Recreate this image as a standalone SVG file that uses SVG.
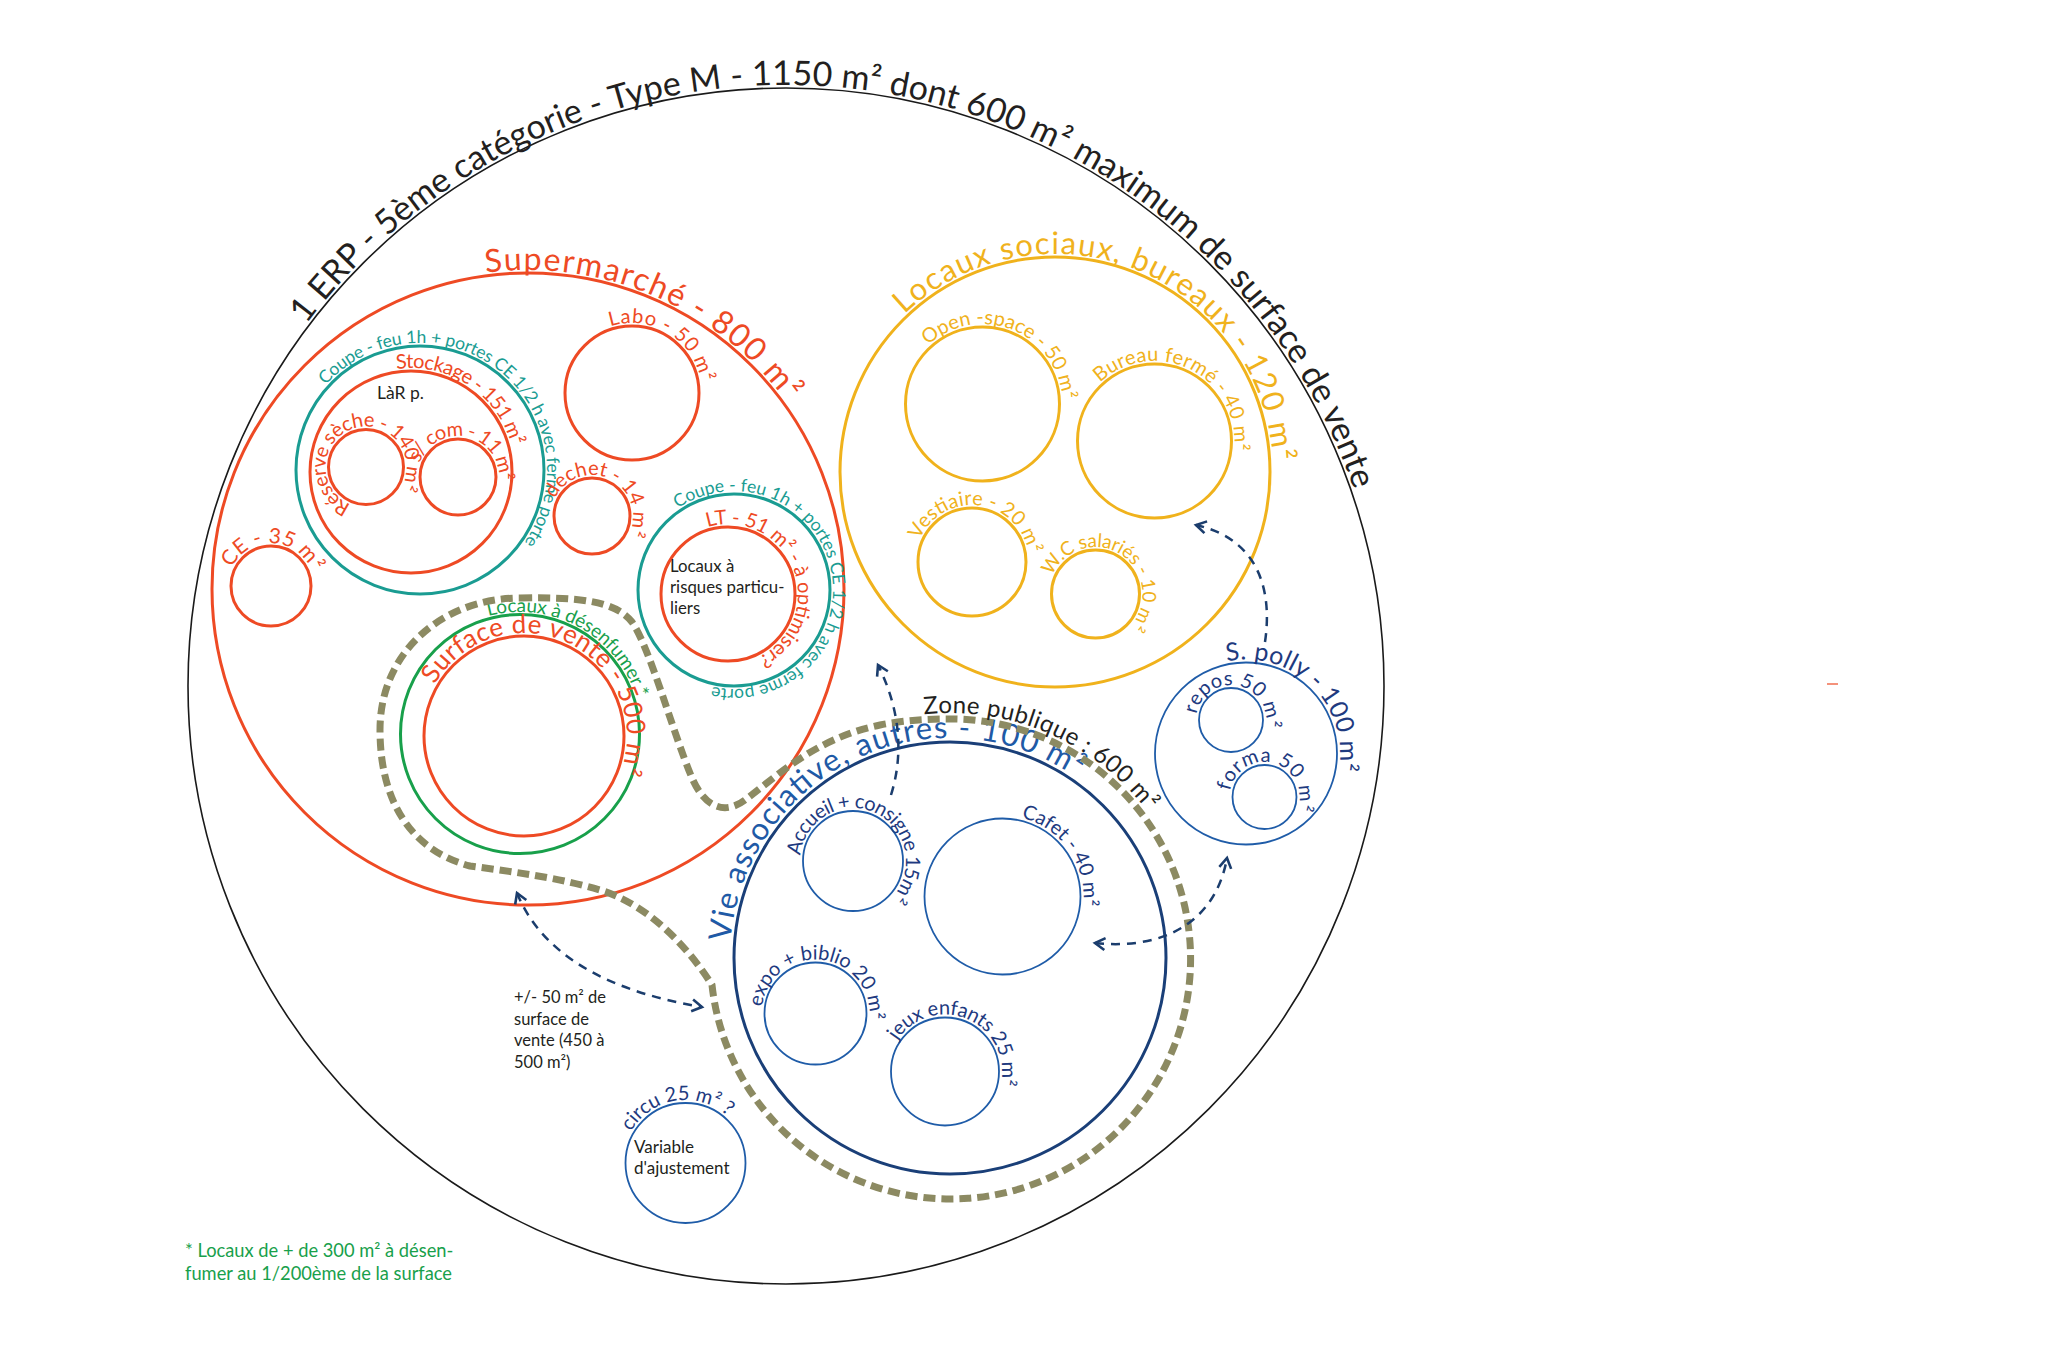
<svg xmlns="http://www.w3.org/2000/svg" xmlns:xlink="http://www.w3.org/1999/xlink" width="2048" height="1356" viewBox="0 0 2048 1356">
<style>
text { font-family: Lato, "Noto Sans", "DejaVu Sans", sans-serif; }
.k { fill:none; stroke:#1a1a1a; stroke-width:1.6; }
.or { fill:none; stroke:#ee4a24; stroke-width:3; }
.te { fill:none; stroke:#1a9c92; stroke-width:3; }
.gr { fill:none; stroke:#18a04b; stroke-width:3; }
.ye { fill:none; stroke:#f0b21c; stroke-width:3; }
.nv { fill:none; stroke:#1a3f78; stroke-width:3; }
.bl { fill:none; stroke:#1f5ca8; stroke-width:1.8; }
.ol { fill:none; stroke:#8c8a62; stroke-width:7; stroke-dasharray:12 6; }
.ar { fill:none; stroke:#1b3d6d; stroke-width:2.5; stroke-dasharray:9 7; }
.tk { fill:#231f20; }
.tor { fill:#ee4a24; }
.tte { fill:#1a9c92; }
.tgr { fill:#18a04b; }
.tye { fill:#f0b21c; }
.tvb { fill:#1f5aa6; }
.tnv { fill:#1e3a80; }
</style>
<defs>
<marker id="ah" viewBox="-13 -8 16 16" refX="0" refY="0" markerWidth="16" markerHeight="16" markerUnits="userSpaceOnUse" orient="auto-start-reverse">
<path d="M-10,-6 L0,0 L-10,6" fill="none" stroke="#1b3d6d" stroke-width="2.6"/>
</marker>
<path id="r601" d="M601,0 A601,601 0 1 1 -601,0 A601,601 0 1 1 601,0"/>
<path id="r319" d="M319,0 A319,319 0 1 1 -319,0 A319,319 0 1 1 319,0"/>
<path id="r218" d="M218,0 A218,218 0 1 1 -218,0 A218,218 0 1 1 218,0"/>
<path id="r70" d="M70,0 A70,70 0 1 1 -70,0 A70,70 0 1 1 70,0"/>
<path id="r104" d="M104,0 A104,104 0 1 1 -104,0 A104,104 0 1 1 104,0"/>
<path id="r127" d="M127,0 A127,127 0 1 1 -127,0 A127,127 0 1 1 127,0"/>
<path id="r40" d="M40.5,0 A40.5,40.5 0 1 1 -40.5,0 A40.5,40.5 0 1 1 40.5,0"/>
<path id="r41" d="M41,0 A41,41 0 1 1 -41,0 A41,41 0 1 1 41,0"/>
<path id="r43" d="M43,0 A43,43 0 1 1 -43,0 A43,43 0 1 1 43,0"/>
<path id="r99" d="M99,0 A99,99 0 1 1 -99,0 A99,99 0 1 1 99,0"/>
<path id="r103" d="M103,0 A103,103 0 1 1 -103,0 A103,103 0 1 1 103,0"/>
<path id="r122" d="M122,0 A122,122 0 1 1 -122,0 A122,122 0 1 1 122,0"/>
<path id="r220" d="M220,0 A220,220 0 1 1 -220,0 A220,220 0 1 1 220,0"/>
<path id="r247" d="M247,0 A247,247 0 1 1 -247,0 A247,247 0 1 1 247,0"/>
<path id="r53" d="M53,0 A53,53 0 1 1 -53,0 A53,53 0 1 1 53,0"/>
<path id="r81" d="M81,0 A81,81 0 1 1 -81,0 A81,81 0 1 1 81,0"/>
<path id="r54" d="M54,0 A54,54 0 1 1 -54,0 A54,54 0 1 1 54,0"/>
<path id="r57" d="M57,0 A57,57 0 1 1 -57,0 A57,57 0 1 1 57,0"/>
<path id="r94" d="M94,0 A94,94 0 1 1 -94,0 A94,94 0 1 1 94,0"/>
<path id="r35" d="M35,0 A35,35 0 1 1 -35,0 A35,35 0 1 1 35,0"/>
<path id="r63" d="M63,0 A63,63 0 1 1 -63,0 A63,63 0 1 1 63,0"/>
<path id="r80" d="M80,0 A80,80 0 1 1 -80,0 A80,80 0 1 1 80,0"/>
<path id="r47" d="M47,0 A47,47 0 1 1 -47,0 A47,47 0 1 1 47,0"/>
</defs>
<rect x="0" y="0" width="2048" height="1356" fill="#ffffff"/>

<g id="erp">
<circle class="k" cx="786" cy="686" r="598"/>
<g transform="translate(786,686) rotate(-143)"><text class="tk" font-size="34"><textPath href="#r601" textLength="1300" lengthAdjust="spacing">1 ERP - 5ème catégorie - Type M - 1150 m² dont 600 m² maximum de surface de vente</textPath></text></g>
</g>

<g id="supermarche">
<circle class="or" cx="528" cy="589" r="316"/>
<g transform="translate(528,589) rotate(-97.6)"><text class="tor" font-size="32"><textPath href="#r319" textLength="343" lengthAdjust="spacing">Supermarché - 800 m²</textPath></text></g>
</g>

<g id="labo">
<circle class="or" cx="632" cy="393" r="67"/>
<g transform="translate(632,393) rotate(-108)"><text class="tor" font-size="20"><textPath href="#r70" textLength="120" lengthAdjust="spacing">Labo - 50 m²</textPath></text></g>
</g>

<g id="coupe-feu-stockage">
<circle class="te" cx="420" cy="470" r="124"/>
<g transform="translate(420,470) rotate(-138)"><text class="tte" font-size="17.5"><textPath href="#r127" textLength="383" lengthAdjust="spacing">Coupe - feu 1h + portes CE 1/2 h avec ferme porte</textPath></text></g>
</g>

<g id="stockage">
<circle class="or" cx="411" cy="472" r="101"/>
<g transform="translate(411,472) rotate(-98)"><text class="tor" font-size="20"><textPath href="#r104" textLength="151" lengthAdjust="spacing">Stockage - 151 m²</textPath></text></g>
<text class="tk" x="377" y="399" font-size="17.5">LàR p.</text>
</g>

<g id="reserve-seche">
<circle class="or" cx="366" cy="467" r="37.5"/>
<g transform="translate(366,467) rotate(112)"><text class="tor" font-size="20"><textPath href="#r40" textLength="196" lengthAdjust="spacing">Réserve sèche - 140 m²</textPath></text></g>
</g>

<g id="s-com">
<circle class="or" cx="458" cy="477" r="38"/>
<g transform="translate(458,477) rotate(-160)"><text class="tor" font-size="20"><textPath href="#r41" textLength="117" lengthAdjust="spacing">s/ com - 11 m²</textPath></text></g>
</g>

<g id="dechet">
<circle class="or" cx="592" cy="516" r="38"/>
<g transform="translate(592,516) rotate(-155)"><text class="tor" font-size="20"><textPath href="#r41" textLength="129" lengthAdjust="spacing">dechet - 14 m²</textPath></text></g>
</g>

<g id="ce">
<circle class="or" cx="271" cy="586" r="40"/>
<g transform="translate(271,586) rotate(-155)"><text class="tor" font-size="21"><textPath href="#r43" textLength="101" lengthAdjust="spacing">CE - 35 m²</textPath></text></g>
</g>

<g id="coupe-feu-lt">
<circle class="te" cx="734" cy="590" r="96"/>
<g transform="translate(734,590) rotate(-124.5)"><text class="tte" font-size="17.5"><textPath href="#r99" textLength="392" lengthAdjust="spacing">Coupe - feu 1h + portes CE 1/2 h avec ferme porte</textPath></text></g>
</g>

<g id="lt">
<circle class="or" cx="728" cy="594" r="67"/>
<g transform="translate(728,594) rotate(-107)"><text class="tor" font-size="20"><textPath href="#r70" textLength="209" lengthAdjust="spacing">LT - 51 m² - à optimiser?</textPath></text></g>
<text class="tk" font-size="16.8"><tspan x="670" y="572">Locaux à</tspan><tspan x="670" y="593">risques particu-</tspan><tspan x="670" y="614">liers</tspan></text>
</g>

<g id="desenfumage">
<circle class="gr" cx="520" cy="734" r="119.5"/>
<g transform="translate(520,734) rotate(-105)"><text class="tgr" font-size="19"><textPath href="#r122" textLength="187" lengthAdjust="spacing">Locaux à désenfumer *</textPath></text></g>
</g>

<g id="surface-vente">
<circle class="or" cx="524" cy="736" r="100"/>
<g transform="translate(524,736) rotate(-150)"><text class="tor" font-size="26"><textPath href="#r103" textLength="306" lengthAdjust="spacing">Surface de vente - 500 m²</textPath></text></g>
</g>

<g id="locaux-sociaux">
<circle class="ye" cx="1055" cy="472" r="215"/>
<g transform="translate(1055,472) rotate(-133.7)"><text class="tye" font-size="31"><textPath href="#r218" textLength="497" lengthAdjust="spacing">Locaux sociaux, bureaux - 120 m²</textPath></text></g>
</g>

<g id="open-space">
<circle class="ye" cx="982.5" cy="404" r="77"/>
<g transform="translate(982.5,404) rotate(-132.8)"><text class="tye" font-size="20"><textPath href="#r80" textLength="180" lengthAdjust="spacing">Open -space - 50 m²</textPath></text></g>
</g>

<g id="bureau-ferme">
<circle class="ye" cx="1154.5" cy="441" r="77"/>
<g transform="translate(1154.5,441) rotate(-133)"><text class="tye" font-size="20"><textPath href="#r80" textLength="194" lengthAdjust="spacing">Bureau fermé - 40 m²</textPath></text></g>
</g>

<g id="vestiaire">
<circle class="ye" cx="972" cy="562" r="54"/>
<g transform="translate(972,562) rotate(-157)"><text class="tye" font-size="20"><textPath href="#r57" textLength="147" lengthAdjust="spacing">Vestiaire - 20 m²</textPath></text></g>
</g>

<g id="wc-salaries">
<circle class="ye" cx="1095.5" cy="594" r="44"/>
<g transform="translate(1095.5,594) rotate(-157.4)"><text class="tye" font-size="19"><textPath href="#r47" textLength="163" lengthAdjust="spacing">W.C salariés - 10 m²</textPath></text></g>
</g>

<g id="vie-associative">
<circle class="nv" cx="950" cy="958" r="216"/>
<g transform="translate(950,958) rotate(-175.7)"><text class="tvb" font-size="31"><textPath href="#r220" textLength="463" lengthAdjust="spacing">Vie associative, autres - 100 m²</textPath></text></g>
</g>

<g id="accueil">
<circle class="bl" cx="853" cy="861" r="50"/>
<g transform="translate(853,861) rotate(-174)"><text class="tnv" font-size="20"><textPath href="#r53" textLength="200" lengthAdjust="spacing">Accueil + consigne 15m²</textPath></text></g>
</g>

<g id="cafet">
<circle class="bl" cx="1002.5" cy="896.5" r="78"/>
<g transform="translate(1002.5,896.5) rotate(-76.6)"><text class="tnv" font-size="20"><textPath href="#r81" textLength="117" lengthAdjust="spacing">Cafet - 40 m²</textPath></text></g>
</g>

<g id="expo-biblio">
<circle class="bl" cx="815.5" cy="1013.5" r="51"/>
<g transform="translate(815.5,1013.5) rotate(-173)"><text class="tnv" font-size="20"><textPath href="#r54" textLength="168" lengthAdjust="spacing">expo + biblio 20 m²</textPath></text></g>
</g>

<g id="jeux-enfants">
<circle class="bl" cx="945" cy="1071.5" r="54"/>
<g transform="translate(945,1071.5) rotate(-147)"><text class="tnv" font-size="20"><textPath href="#r57" textLength="159" lengthAdjust="spacing">jeux enfants 25 m²</textPath></text></g>
</g>

<g id="s-polly">
<circle class="bl" cx="1246" cy="753.5" r="91"/>
<g transform="translate(1246,753.5) rotate(-101.7)"><text class="tnv" font-size="25"><textPath href="#r94" textLength="183" lengthAdjust="spacing">S. polly - 100 m²</textPath></text></g>
</g>

<g id="repos">
<circle class="bl" cx="1231" cy="720" r="32"/>
<g transform="translate(1231,720) rotate(-170)"><text class="tnv" font-size="20"><textPath href="#r35" textLength="110" lengthAdjust="spacing">repos 50 m²</textPath></text></g>
</g>

<g id="forma">
<circle class="bl" cx="1264.5" cy="797" r="32"/>
<g transform="translate(1264.5,797) rotate(-170)"><text class="tnv" font-size="20"><textPath href="#r35" textLength="116" lengthAdjust="spacing">forma 50 m²</textPath></text></g>
</g>

<g id="circu">
<circle class="bl" cx="685.5" cy="1163" r="60"/>
<g transform="translate(685.5,1163) rotate(-150)"><text class="tnv" font-size="20"><textPath href="#r63" textLength="112" lengthAdjust="spacing">circu 25 m² ?</textPath></text></g>
<text class="tk" font-size="17"><tspan x="634" y="1153">Variable</tspan><tspan x="634" y="1174">d'ajustement</tspan></text>
</g>

<g id="zone-publique">
<path class="ol" d="M520,598 C575,597 615,600 632,622 C650,648 672,730 692,778 C705,808 725,815 745,800 C775,778 815,738 880,725 C905,720 930,719 950,719 A240,240 0 1 1 712,985 C690,950 650,905 600,890 C560,878 515,872 470,866 C410,850 380,800 380,730 C380,650 445,598 520,598 Z"/>
<g transform="translate(950,960) rotate(-96)"><text class="tk" font-size="24"><textPath href="#r247" textLength="254" lengthAdjust="spacing">Zone publique : 600 m²</textPath></text></g>
</g>

<g id="note-surface">
<text class="tk" font-size="16.5"><tspan x="514" y="1003">+/- 50 m² de</tspan><tspan x="514" y="1025">surface de</tspan><tspan x="514" y="1046">vente (450 à</tspan><tspan x="514" y="1068">500 m²)</tspan></text>
</g>

<g id="footnote">
<text class="tgr" font-size="18.3"><tspan x="185" y="1257">* Locaux de + de 300 m² à désen-</tspan><tspan x="185" y="1280">fumer au 1/200ème de la surface</tspan></text>
</g>

<g id="mark">
<line x1="1827" y1="684" x2="1838" y2="684" stroke="#ee4a24" stroke-width="1.5" stroke-opacity="0.8"/>
</g>

<g id="connectors">
<path class="ar" d="M517,893 C540,950 600,990 702,1007" marker-start="url(#ah)" marker-end="url(#ah)"/>
<path class="ar" d="M891,795 C902,760 903,715 878,665" marker-end="url(#ah)"/>
<path class="ar" d="M1095,943 C1160,950 1215,925 1227,858" marker-start="url(#ah)" marker-end="url(#ah)"/>
<path class="ar" d="M1265,642 C1272,595 1262,540 1196,525" marker-end="url(#ah)"/>
</g>
</svg>
